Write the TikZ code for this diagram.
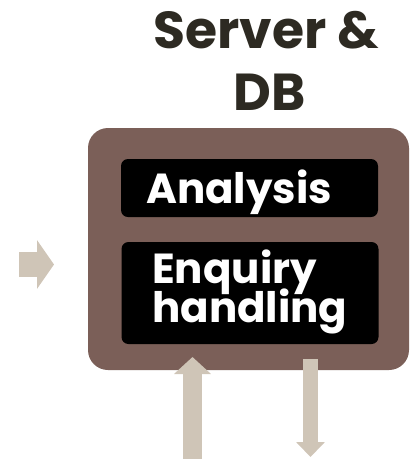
\documentclass[tikz,border=0pt]{standalone}
\usepackage{fontspec}
\setmainfont{Poppins}
\usetikzlibrary{arrows.meta}
\definecolor{boxbrown}{HTML}{7B5F58}
\definecolor{flowgrey}{HTML}{CFC5B7}
\definecolor{titledark}{HTML}{2D2A22}

\begin{document}
\begin{tikzpicture}[x=1pt,y=-1pt,
  outer/.style={fill=boxbrown,rounded corners=20pt,minimum width=321pt,minimum height=242pt,inner sep=0},
  inner/.style={fill=black,rounded corners=7pt,minimum width=257pt,inner sep=0},
  lbl/.style={text=white,font=\bfseries\fontsize{42}{39}\selectfont,inner sep=0,anchor=base west},
  ttl/.style={text=titledark,font=\bfseries\fontsize{52}{62}\selectfont,inner sep=0,anchor=base},
  flow/.style={draw=flowgrey,line cap=butt}
  ]
\useasboundingbox (0,0) rectangle (412,459);
% title
\node[ttl] (t1) at (266.5,48) {Server \&};
\node[ttl] (t2) at (270,110) {DB};
% server box
\node[outer] (srv) at (248.5,249) {};
\node[inner,minimum height=58pt] (ana) at (249.5,188) {};
\node[inner,minimum height=102pt] (enq) at (250,293) {};
\node[lbl] (analbl) at (146,203) {Analysis};
\node[lbl] (enqlbl) at (152,283) {Enquiry};
\node[lbl] (hndlbl) at (152,322) {handling};
% arrows
\coordinate (inA) at (19,264.5);
\coordinate (inB) at (54,264.5);
\coordinate (upA) at (192.5,459);
\coordinate (upB) at (192.5,357);
\coordinate (dnA) at (310.5,359);
\coordinate (dnB) at (310.5,457);
\draw[flow,line width=25pt,-{Triangle[width=48pt,length=17pt]}] (inA) -- (inB);
\draw[flow,line width=19pt,-{Triangle[width=36pt,length=17pt]}] (upA) -- (upB);
\draw[flow,line width=15pt,-{Triangle[width=28pt,length=15pt]}] (dnA) -- (dnB);
\end{tikzpicture}
\end{document}
